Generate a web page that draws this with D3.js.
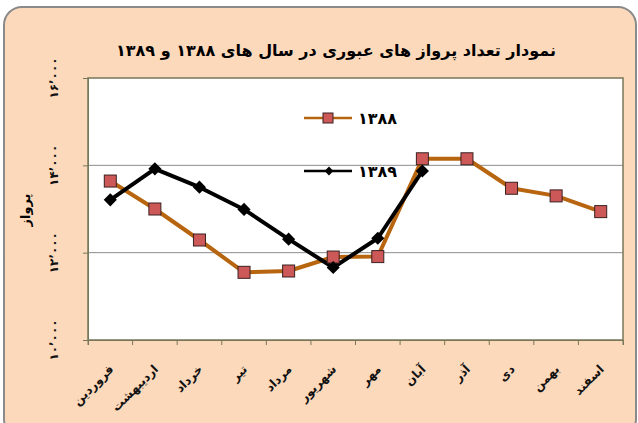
<!DOCTYPE html>
<html>
<head>
<meta charset="utf-8">
<style>
body { margin: 0; background: #fff; }
svg { font-family: "DejaVu Sans", sans-serif; }
</style>
</head>
<body>
<script src="https://cdn.jsdelivr.net/npm/d3@7"></script>
<script>
var months = ["فروردین", "اردیبهشت", "خرداد", "تیر", "مرداد", "شهریور",
              "مهر", "آبان", "آذر", "دی", "بهمن", "اسفند"];
var y1388 = [13640, 13000, 12290, 11550, 11580, 11900, 11910, 14150, 14150, 13475, 13300, 12940];
var y1389 = [13210, 13920, 13500, 12990, 12310, 11660, 12330, 13870];
var yTicks = [10000, 12000, 14000, 16000];
var yTickLabels = ["۱۰٬۰۰۰", "۱۲٬۰۰۰", "۱۴٬۰۰۰", "۱۶٬۰۰۰"];
var title = "نمودار تعداد پرواز های عبوری  در سال های ۱۳۸۸ و ۱۳۸۹";

var W = 638, H = 423;
var plot = {left: 88, right: 623, top: 78, bottom: 340};

var svg = d3.select("body").append("svg")
    .attr("width", W).attr("height", H);

// background frame
svg.append("rect")
    .attr("x", 4).attr("y", 7)
    .attr("width", 632).attr("height", 430)
    .attr("rx", 18).attr("ry", 18)
    .attr("fill", "#fdd9bb")
    .attr("stroke", "#8a8a8a")
    .attr("stroke-width", 2);

var x = d3.scaleBand().domain(months).range([plot.left, plot.right]);
var y = d3.scaleLinear().domain([10000, 16000]).range([plot.bottom, plot.top]);

svg.append("rect")
    .attr("x", plot.left).attr("y", plot.top)
    .attr("width", plot.right - plot.left).attr("height", plot.bottom - plot.top)
    .attr("fill", "#fff");

// grid
svg.append("g").selectAll("line")
  .data(yTicks.slice(1, 3))
  .join("line")
    .attr("x1", plot.left).attr("x2", plot.right)
    .attr("y1", d => y(d)).attr("y2", d => y(d))
    .attr("stroke", "#8c8c8c").attr("stroke-width", 1);

svg.append("rect")
    .attr("x", plot.left).attr("y", plot.top)
    .attr("width", plot.right - plot.left).attr("height", plot.bottom - plot.top)
    .attr("fill", "none")
    .attr("stroke", "#77775a").attr("stroke-width", 1.5);

// y axis
var yAxis = svg.append("g")
    .attr("transform", "translate(" + plot.left + ",0)")
    .call(d3.axisLeft(y).tickValues(yTicks).tickSize(5).tickFormat((d, i) => ""));
yAxis.select(".domain").attr("stroke", "#77775a");
yAxis.selectAll(".tick line").attr("stroke", "#77775a");

svg.append("g").selectAll("text")
  .data(yTicks)
  .join("text")
    .attr("transform", d => "translate(58," + y(d) + ") rotate(-90)")
    .attr("text-anchor", "middle")
    .attr("font-size", 12)
    .attr("font-weight", "bold")
    .attr("fill", "#111")
    .text((d, i) => yTickLabels[i]);

svg.append("text")
    .attr("transform", "translate(30,210) rotate(-90)")
    .attr("text-anchor", "middle")
    .attr("font-size", 13)
    .attr("font-weight", "bold")
    .text("پرواز");

// x axis
var xAxis = svg.append("g")
    .attr("transform", "translate(0," + plot.bottom + ")")
    .call(d3.axisBottom(x).tickSize(5).tickFormat(""));
xAxis.select(".domain").attr("stroke", "#77775a");
xAxis.selectAll(".tick line")
    .attr("transform", "translate(" + (-x.bandwidth() / 2) + ",0)")
    .attr("stroke", "#77775a");
xAxis.append("line")
    .attr("x1", plot.right).attr("x2", plot.right)
    .attr("y1", 0).attr("y2", 5).attr("stroke", "#77775a");

svg.append("g").selectAll("text")
  .data(months)
  .join("text")
    .attr("transform", d => "translate(" + (x(d) + x.bandwidth() / 2 + 4) + "," + (plot.bottom + 30) + ") rotate(-45)")
    .attr("text-anchor", "end")
    .attr("font-size", 12)
    .attr("font-weight", "bold")
    .attr("fill", "#111")
    .text(d => d);

// title
svg.append("text")
    .attr("x", 336).attr("y", 56)
    .attr("text-anchor", "middle")
    .attr("font-size", 16)
    .attr("font-weight", "bold")
    .text(title);

var cx = (d, i) => x(months[i]) + x.bandwidth() / 2;
var line = d3.line().x((d, i) => cx(d, i)).y(d => y(d));

svg.append("path")
    .datum(y1388)
    .attr("d", line)
    .attr("fill", "none")
    .attr("stroke", "#b8650f")
    .attr("stroke-width", 4)
    .attr("stroke-linejoin", "round");

svg.append("path")
    .datum(y1389)
    .attr("d", line)
    .attr("fill", "none")
    .attr("stroke", "#000")
    .attr("stroke-width", 4)
    .attr("stroke-linejoin", "round");

var sq = 12;
svg.append("g").selectAll("rect")
  .data(y1388)
  .join("rect")
    .attr("x", (d, i) => cx(d, i) - sq / 2)
    .attr("y", d => y(d) - sq / 2)
    .attr("width", sq).attr("height", sq)
    .attr("fill", "#cd5858")
    .attr("stroke", "#3a2020").attr("stroke-width", 1);

var diamond = d3.symbol().type(d3.symbolDiamond2).size(110);
svg.append("g").selectAll("path")
  .data(y1389)
  .join("path")
    .attr("transform", (d, i) => "translate(" + cx(d, i) + "," + y(d) + ")")
    .attr("d", diamond)
    .attr("fill", "#000");

// legend
var legend = [
  {name: "۱۳۸۸", y: 118, color: "#b8650f", marker: "square"},
  {name: "۱۳۸۹", y: 171, color: "#000", marker: "diamond"}
];
var lg = svg.append("g").selectAll("g").data(legend).join("g");
lg.append("line")
    .attr("x1", 304).attr("x2", 352)
    .attr("y1", d => d.y).attr("y2", d => d.y)
    .attr("stroke", d => d.color).attr("stroke-width", 2.5);
lg.filter(d => d.marker == "square").append("rect")
    .attr("x", 328 - 5).attr("y", d => d.y - 5)
    .attr("width", 10).attr("height", 10)
    .attr("fill", "#cd5858").attr("stroke", "#3a2020");
lg.filter(d => d.marker == "diamond").append("path")
    .attr("transform", d => "translate(329," + d.y + ")")
    .attr("d", d3.symbol().type(d3.symbolDiamond2).size(50))
    .attr("fill", "#000");
lg.append("text")
    .attr("x", 358).attr("y", d => d.y + 6)
    .attr("font-size", 16)
    .attr("font-weight", "bold")
    .text(d => d.name);
</script>
</body>
</html>
